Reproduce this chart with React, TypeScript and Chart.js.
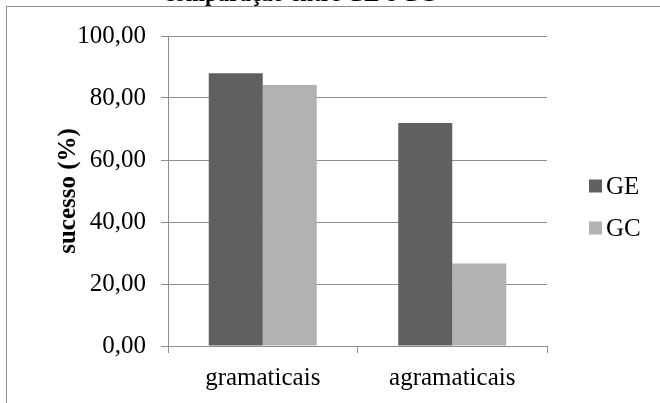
import { useEffect, useRef } from 'react';
import { Chart, registerables } from 'chart.js';

Chart.register(...registerables);

// Data
const categories = ['gramaticais', 'agramaticais'];
const seriesNames = ['GE', 'GC'];
const geValues = [88.0, 71.9];
const gcValues = [84.2, 26.6];
const seriesColors = ['#606060', '#b2b2b2'];
const yTickValues = [0, 20, 40, 60, 80, 100];
const chartTitle = 'comparação entre GE e GC';
const yAxisTitle = 'sucesso (%)';

const SERIF = '"Liberation Serif", "Times New Roman", serif';
const GRID = '#8e8e8e';

const formatTick = (v: number) => v.toFixed(2).replace('.', ',');

// Frame, title and legend drawn around the plot
const decorations = {
  id: 'decorations',
  beforeDraw(chart: any) {
    const ctx = chart.ctx;
    ctx.save();
    ctx.fillStyle = '#ffffff';
    ctx.fillRect(0, 0, chart.width, chart.height);
    ctx.strokeStyle = GRID;
    ctx.lineWidth = 1;
    ctx.strokeRect(6.5, 6.5, chart.width + 20, chart.height + 20);
    ctx.restore();
  },
  afterDraw(chart: any) {
    const ctx = chart.ctx;
    ctx.save();
    ctx.fillStyle = '#000000';
    ctx.font = `bold 23px ${SERIF}`;
    ctx.textAlign = 'center';
    ctx.textBaseline = 'alphabetic';
    ctx.fillText(chartTitle, 300, 1);

    chart.data.datasets.forEach((ds: any, i: number) => {
      const cy = 186 + i * 42;
      ctx.fillStyle = ds.backgroundColor;
      ctx.fillRect(589, cy - 6.5, 13, 13);
      ctx.fillStyle = '#000000';
      ctx.font = `25px ${SERIF}`;
      ctx.textAlign = 'left';
      ctx.textBaseline = 'alphabetic';
      ctx.fillText(ds.label, 606, cy + 8);
    });
    ctx.restore();
  },
};

export default function App() {
  const canvasRef = useRef<HTMLCanvasElement | null>(null);

  useEffect(() => {
    document.body.style.margin = '0';
    const canvas = canvasRef.current;
    if (!canvas) return;
    const chart = new Chart(canvas, {
      type: 'bar',
      data: {
        labels: categories,
        datasets: [
          { label: seriesNames[0], data: geValues, backgroundColor: seriesColors[0], borderWidth: 0 },
          { label: seriesNames[1], data: gcValues, backgroundColor: seriesColors[1], borderWidth: 0 },
        ],
      },
      options: {
        responsive: false,
        animation: false,
        devicePixelRatio: 1,
        layout: { padding: { top: 36, right: 113, bottom: 0, left: 0 } },
        datasets: { bar: { categoryPercentage: 0.57, barPercentage: 1.0 } },
        plugins: {
          legend: { display: false },
          title: { display: false },
          tooltip: { enabled: false },
        },
        scales: {
          x: {
            afterFit(scale: any) {
              scale.height = 57;
            },
            grid: {
              display: true,
              drawOnChartArea: false,
              drawTicks: true,
              tickLength: 7,
              offset: true,
              color: GRID,
              lineWidth: 1,
            },
            border: { display: true, color: GRID, width: 1 },
            ticks: {
              color: '#000000',
              font: { family: SERIF, size: 25 },
              padding: 10,
              maxRotation: 0,
            },
          },
          y: {
            min: 0,
            max: 100,
            afterFit(scale: any) {
              scale.width = 168;
            },
            afterBuildTicks(scale: any) {
              scale.ticks = yTickValues.map((v) => ({ value: v }));
            },
            grid: {
              color: GRID,
              lineWidth: 1,
              drawTicks: true,
              tickLength: 7,
            },
            border: { display: true, color: GRID, width: 1 },
            ticks: {
              color: '#000000',
              font: { family: SERIF, size: 25 },
              padding: 15,
              callback: (v: any) => formatTick(Number(v)),
            },
            title: {
              display: true,
              text: yAxisTitle,
              color: '#000000',
              font: { family: SERIF, size: 25, weight: 'bold' },
              padding: { top: 54, bottom: 0 },
            },
          },
        },
      },
      plugins: [decorations],
    } as any);
    return () => chart.destroy();
  }, []);

  return (
    <div style={{ width: 660, height: 403 }}>
      <canvas ref={canvasRef} width={660} height={403} style={{ display: 'block' }} />
    </div>
  );
}
